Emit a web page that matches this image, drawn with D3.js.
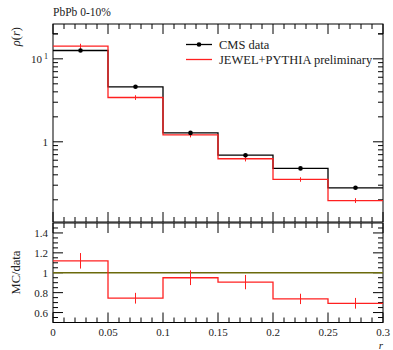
<!DOCTYPE html>
<html><head><meta charset="utf-8">
<script src="https://cdn.jsdelivr.net/npm/d3@7"></script>
<style>
body{margin:0;background:#fff;}
svg text{font-family:"Liberation Serif","DejaVu Serif",serif;fill:#222;}
</style></head>
<body><svg id="c" width="393" height="350" font-family="Liberation Serif, DejaVu Serif, serif"></svg>
<script>
// ---- data ----
const binEdges = [0, 0.05, 0.1, 0.15, 0.2, 0.25, 0.3];
const cmsData = [12.6, 4.6, 1.28, 0.69, 0.478, 0.279];
const cmsErr = [0.2, 0.07, 0.02, 0.01, 0.007, 0.004];
const jewel = [14.2, 3.42, 1.21, 0.625, 0.352, 0.196];
const jewelErr = [1.0, 0.22, 0.08, 0.045, 0.022, 0.013];
const ratio = [1.12, 0.744, 0.95, 0.906, 0.737, 0.693];
const ratioErr = [0.078, 0.054, 0.074, 0.072, 0.052, 0.054];
const xTicks = [0, 0.05, 0.1, 0.15, 0.2, 0.25, 0.3];
const xTickLabels = ["0", "0.05", "0.1", "0.15", "0.2", "0.25", "0.3"];
const ratioTicks = [0.6, 0.8, 1.0, 1.2, 1.4];
const ratioTickLabels = ["0.6", "0.8", "1", "1.2", "1.4"];

const FONT = "'Liberation Serif', 'DejaVu Serif', serif";
const svg = d3.select("#c");
const L = 53, R = 383, T = 24, MB = 222, RT = 223, RB = 322.5;

const x = d3.scaleLinear().domain([0, 0.3]).range([L, R]);
const y = d3.scaleLog().domain([0.108, 26.3]).range([MB, T]);
const yr = d3.scaleLinear().domain([0.5, 1.5]).range([RB, RT]);

const RED = "#ff2020";

function txt(xp, yp, s, size) {
  return svg.append("text").attr("x", xp).attr("y", yp).attr("font-family", FONT)
    .attr("font-size", size).attr("fill", "#222").text(s);
}

function stepPath(vals, ys) {
  let p = "";
  vals.forEach((v, i) => {
    const x0 = x(binEdges[i]), x1 = x(binEdges[i + 1]), yy = ys(v);
    p += (i === 0 ? "M" : "L") + x0 + "," + yy + "L" + x1 + "," + yy;
  });
  return p;
}

function frameTicks(g, top, bottom) {
  d3.range(0, 0.3001, 0.01).forEach(v => {
    const major = Math.abs(Math.round(v / 0.05) * 0.05 - v) < 1e-6;
    const len = major ? 10 : 5;
    g.append("line").attr("x1", x(v)).attr("x2", x(v)).attr("y1", bottom).attr("y2", bottom - len);
    g.append("line").attr("x1", x(v)).attr("x2", x(v)).attr("y1", top).attr("y2", top + len);
  });
}

// ---- main panel ----
const gm = svg.append("g").attr("stroke", "#000").attr("stroke-width", 1);
frameTicks(gm, T, MB);
const logTicks = [];
for (let d = 0.1; d <= 10; d *= 10) for (let k = 1; k <= 9; k++) logTicks.push(+(k * d).toPrecision(3));
logTicks.push(20);
logTicks.filter(v => v >= 0.108 && v <= 26.3).forEach(v => {
  const major = (v === 1 || v === 10);
  const len = major ? 10 : 5;
  gm.append("line").attr("x1", L).attr("x2", L + len).attr("y1", y(v)).attr("y2", y(v));
  gm.append("line").attr("x1", R).attr("x2", R - len).attr("y1", y(v)).attr("y2", y(v));
});
gm.append("rect").attr("x", L).attr("y", T).attr("width", R - L).attr("height", MB - T).attr("fill", "none");

const tl10 = txt(L - 5, y(10) + 4, null, 11).attr("text-anchor", "end");
tl10.append("tspan").text("10");
tl10.append("tspan").attr("dx", 2).attr("dy", -4).attr("font-size", 8).text("1");
txt(L - 5, y(1) + 4, "1", 11).attr("text-anchor", "end");

svg.append("path").attr("d", stepPath(cmsData, y)).attr("fill", "none").attr("stroke", "#000").attr("stroke-width", 1.3);
svg.append("path").attr("d", stepPath(jewel, y)).attr("fill", "none").attr("stroke", RED).attr("stroke-width", 1.3);
const centers = binEdges.slice(0, -1).map((e, i) => (e + binEdges[i + 1]) / 2);
jewel.forEach((v, i) => {
  svg.append("line").attr("x1", x(centers[i])).attr("x2", x(centers[i]))
    .attr("y1", y(v - jewelErr[i])).attr("y2", y(v + jewelErr[i])).attr("stroke", RED).attr("stroke-width", 1);
});
cmsData.forEach((v, i) => {
  svg.append("line").attr("x1", x(centers[i])).attr("x2", x(centers[i]))
    .attr("y1", y(v - cmsErr[i])).attr("y2", y(v + cmsErr[i])).attr("stroke", "#000").attr("stroke-width", 1);
  svg.append("circle").attr("cx", x(centers[i])).attr("cy", y(v)).attr("r", 2.3).attr("fill", "#000");
});

// legend
svg.append("line").attr("x1", 186).attr("x2", 212).attr("y1", 44.5).attr("y2", 44.5).attr("stroke", "#000").attr("stroke-width", 1.3);
svg.append("circle").attr("cx", 199).attr("cy", 44.5).attr("r", 2.3).attr("fill", "#000");
txt(219, 48.5, "CMS data", 12.5);
svg.append("line").attr("x1", 186).attr("x2", 212).attr("y1", 59.5).attr("y2", 59.5).attr("stroke", RED).attr("stroke-width", 1.3);
txt(219, 63.5, "JEWEL+PYTHIA preliminary", 12.5);

// title and y label
txt(53, 16, "PbPb 0-10%", 11.5);
const yl = svg.append("text").attr("transform", "translate(20,27) rotate(-90)").attr("text-anchor", "end")
  .attr("font-family", FONT).attr("font-size", 12.5).attr("fill", "#222");
yl.append("tspan").attr("font-style", "italic").text("ρ");
yl.append("tspan").text("(");
yl.append("tspan").attr("font-style", "italic").text("r");
yl.append("tspan").text(")");

// ---- ratio panel ----
const gr = svg.append("g").attr("stroke", "#000").attr("stroke-width", 1);
frameTicks(gr, RT, RB);
d3.range(0.55, 1.5, 0.05).forEach(v => {
  const major = ratioTicks.some(t => Math.abs(t - v) < 1e-6);
  const len = major ? 10 : 5;
  gr.append("line").attr("x1", L).attr("x2", L + len).attr("y1", yr(v)).attr("y2", yr(v));
  gr.append("line").attr("x1", R).attr("x2", R - len).attr("y1", yr(v)).attr("y2", yr(v));
});
gr.append("rect").attr("x", L).attr("y", RT).attr("width", R - L).attr("height", RB - RT).attr("fill", "none");
ratioTicks.forEach((v, i) => {
  txt(L - 5, yr(v) + 4, ratioTickLabels[i], 11).attr("text-anchor", "end");
});
svg.append("line").attr("x1", L).attr("x2", R).attr("y1", yr(1)).attr("y2", yr(1)).attr("stroke", "#6b6a0c").attr("stroke-width", 1.6);
svg.append("path").attr("d", stepPath(ratio, yr)).attr("fill", "none").attr("stroke", RED).attr("stroke-width", 1.3);
ratio.forEach((v, i) => {
  svg.append("line").attr("x1", x(centers[i])).attr("x2", x(centers[i]))
    .attr("y1", yr(v - ratioErr[i])).attr("y2", yr(v + ratioErr[i])).attr("stroke", RED).attr("stroke-width", 1);
});
svg.append("text").attr("transform", "translate(20,272.5) rotate(-90)").attr("text-anchor", "middle")
  .attr("font-family", FONT).attr("font-size", 12.5).attr("fill", "#222").text("MC/data");

xTicks.forEach((v, i) => {
  txt(x(v), 336, xTickLabels[i], 11).attr("text-anchor", "middle");
});
txt(381, 348.5, "r", 11).attr("text-anchor", "middle").attr("font-style", "italic");
</script></body></html>
